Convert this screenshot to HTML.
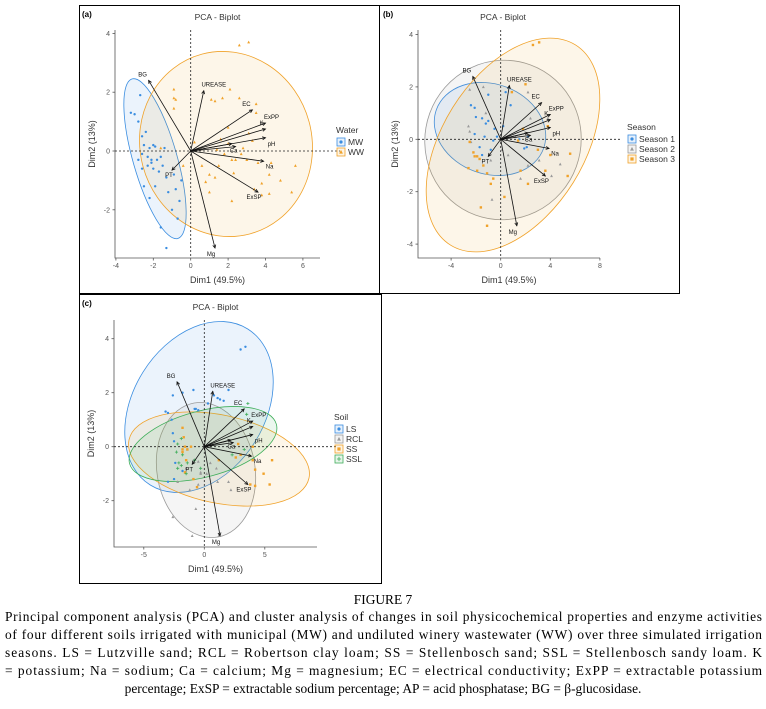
<!DOCTYPE html>
<html><head><meta charset="utf-8">
<style>
html,body{margin:0;padding:0;background:#fff;}
svg{display:block;}
text{font-family:"Liberation Sans",sans-serif;}
.cap{font-family:"Liberation Serif",serif;font-size:13.4px;fill:#000;}
</style></head>
<body>
<svg id="fig" width="766" height="709" viewBox="0 0 766 709" xmlns="http://www.w3.org/2000/svg">
<rect x="79.5" y="5.5" width="300" height="288" fill="none" stroke="#000"/>
<rect x="379.5" y="5.5" width="300" height="288" fill="none" stroke="#000"/>
<rect x="79.5" y="294.5" width="302" height="289" fill="none" stroke="#000"/>
<g id="panels"></g>
<text class="cap" x="383" y="604" text-anchor="middle">FIGURE 7</text>
<text class="cap" x="5" y="621" textLength="757" lengthAdjust="spacing">Principal component analysis (PCA) and cluster analysis of changes in soil physicochemical properties and enzyme activities</text>
<text class="cap" x="5" y="639" textLength="757" lengthAdjust="spacing">of four different soils irrigated with municipal (MW) and undiluted winery wastewater (WW) over three simulated irrigation</text>
<text class="cap" x="5" y="657" textLength="757" lengthAdjust="spacing">seasons. LS = Lutzville sand; RCL = Robertson clay loam; SS = Stellenbosch sand; SSL = Stellenbosch sandy loam. K</text>
<text class="cap" x="5" y="675" textLength="757" lengthAdjust="spacing">= potassium; Na = sodium; Ca = calcium; Mg = magnesium; EC = electrical conductivity; ExPP = extractable potassium</text>
<text class="cap" x="383" y="693" text-anchor="middle">percentage; ExSP = extractable sodium percentage; AP = acid phosphatase; BG = β-glucosidase.</text>
</svg>
<script>
const varNames=["BG","UREASE","EC","ExPP","K","pH","AP","Ca","Na","ExSP","Mg","PT"];
const varX=[-2.25,0.7,3.3,4.0,4.0,4.0,2.2,2.4,3.9,3.6,1.3,-1.0];
const varY=[2.4,2.05,1.4,0.95,0.75,0.45,0.25,0.15,-0.35,-1.4,-3.3,-0.65];
const labDx=[-6,10,-6,6,-4,6,0,-2,6,-4,-4,-3];
const labDy=[-4,-4,-4,-4,-4,8,0,6,7,7,8,7];

const aMW=[[-3.2,1.3],[-3.0,1.25],[-2.8,1.0],[-2.7,1.9],[-2.6,0.5],[-2.4,0.65],[-2.5,0.2],[-2.6,-0.1],[-2.3,-0.2],[-2.2,0.1],[-2.0,0.2],[-1.9,0.15],[-2.1,-0.4],[-1.8,-0.3],[-2.0,-0.6],[-1.7,-0.7],[-1.5,-0.5],[-1.3,-0.9],[-2.6,-0.6],[-2.5,-1.2],[-1.9,-1.2],[-1.2,-1.4],[-0.8,-1.3],[-0.6,-1.7],[-1.0,-2.0],[-0.7,-2.3],[-1.6,-2.6],[-1.3,-3.3],[-2.1,-0.3],[-2.3,-0.5],[-1.6,-0.2],[-0.9,-0.8],[-0.5,-1.0],[-2.8,-0.3],[-1.4,0.1],[-2.2,-1.6]];
const aWW=[[2.6,3.6],[3.1,3.7],[-0.9,2.1],[-0.9,1.8],[-0.8,1.75],[-0.9,1.45],[2.1,2.1],[1.1,1.75],[1.3,1.7],[1.7,1.8],[2.6,1.8],[3.5,1.6],[3.5,1.3],[2.0,0.8],[3.1,0.6],[3.3,0.35],[0.2,0.3],[2.0,0.25],[2.8,0.1],[1.4,0.05],[2.7,-0.1],[2.2,-0.3],[2.4,-0.3],[3.0,-0.3],[3.6,-0.4],[4.3,-0.4],[5.6,-0.5],[0.6,-0.5],[1.5,-0.5],[2.3,-0.75],[1.0,-0.8],[4.2,-0.8],[4.8,-1.0],[3.8,-1.1],[0.8,-1.05],[1.3,-0.9],[1.0,-1.4],[2.2,-1.7],[3.8,-1.5],[4.2,-1.45],[5.4,-1.4],[3.4,-1.3],[-1.6,0.1],[-0.4,-0.5],[1.6,0.4],[1.8,-0.1]];
const bS1=[[-2.4,1.3],[-2.1,1.2],[-2.0,0.85],[-1.5,0.8],[-1.2,0.6],[-1.0,0.7],[-0.5,0.4],[-0.3,0.1],[-1.3,0.1],[-2.1,0.2],[-1.7,-0.3],[-0.6,-0.05],[1.5,0],[2.2,0.1],[1.9,-0.35],[0.2,0.5],[-0.8,-0.4],[-1.5,-0.6],[0.8,1.3],[0.4,1.8],[2.1,-0.3],[-1.0,1.7]];
const bS2=[[-2.5,1.9],[-1.4,2.0],[-2.6,0.5],[-2.5,0.3],[-2.4,-0.1],[2.2,1.8],[0.1,-0.4],[-0.8,-0.8],[2.4,0.8],[3.1,-0.8],[1.6,-1.5],[-0.7,-2.3],[4.1,-1.4],[4.8,-0.95],[0.6,-0.6],[2.2,-1.0],[3.8,0.8],[-1.2,1.0],[1.2,0.1]];
const bS3=[[2.6,3.6],[3.1,3.7],[2.0,2.1],[0.9,1.8],[-2.5,-0.1],[-2.2,-0.5],[-2.1,-0.65],[-1.7,-0.75],[-1.9,-0.65],[-1.4,-1.0],[-2.6,-1.1],[-1.9,-1.2],[-1.1,-1.3],[-0.6,-1.5],[-0.8,-1.7],[1.8,0.4],[1.4,-0.05],[3.8,0.5],[3.0,-0.4],[5.6,-0.55],[5.4,-1.4],[3.6,-1.2],[2.2,-1.7],[0.3,-2.2],[-1.6,-2.6],[-1.1,-3.3],[1.6,-1.2],[4.0,-0.6]];
const cLS=[[3.0,3.6],[3.4,3.7],[2.0,2.1],[1.1,1.8],[1.3,1.75],[1.6,1.7],[-1.8,2.0],[-2.6,1.9],[-0.9,2.1],[-0.8,1.4],[-0.5,1.35],[-0.7,1.4],[-3.2,1.3],[-3.0,1.25],[-2.7,1.0],[-2.6,0.5],[-2.5,0.2],[-2.4,-0.6],[-1.8,-0.9],[-2.5,-1.2],[-3.0,-1.3],[0.3,1.6],[0.8,1.9]];
const cRCL=[[-1.5,-0.8],[-0.3,-1.0],[0.2,-1.0],[-0.5,-0.55],[-0.9,-0.5],[1.0,-0.8],[2.0,-1.3],[2.2,-1.6],[1.1,-1.3],[-0.5,-1.4],[-2.2,-1.3],[-1.2,-1.6],[-2.6,-2.6],[-0.7,-2.3],[-1.0,-3.3],[1.2,-3.3],[-0.3,-0.95],[0.5,-0.6],[-1.4,-0.1]];
const cSS=[[-1.8,0.7],[-1.7,0.35],[-1.6,0],[-1.8,-0.2],[-1.4,-0.1],[-1.1,0],[-1.5,-0.5],[-1.6,-0.95],[-0.9,-1.2],[-0.6,-1.5],[1.2,-0.5],[2.6,-0.4],[3.0,-0.3],[4.0,-0.5],[5.6,-0.5],[4.9,-1.0],[4.2,-0.85],[3.8,-1.4],[4.2,-1.45],[5.4,-1.4],[4.0,0.0],[2.8,0.1],[-1.8,-0.1]];
const cSSL=[[3.6,1.6],[3.5,1.2],[-2.3,-0.2],[-2.1,-0.6],[-1.9,-0.7],[-1.4,-0.6],[-1.8,-0.3],[-1.9,0.3],[-2.2,0.1],[-0.8,-0.5],[-0.3,-0.8],[-1.5,-1.0],[2.3,-0.3],[3.3,-0.1],[-2.2,-0.8]];

const ticksA_x=[-4,-2,0,2,4,6], ticksA_y=[-2,0,2,4];
const ticksB_x=[-4,0,4,8], ticksB_y=[-4,-2,0,2,4];
const ticksC_x=[-5,0,5], ticksC_y=[-2,0,2,4];

const NS="http://www.w3.org/2000/svg";
const root=document.getElementById('panels');
function mk(tag,attrs,parent){const e=document.createElementNS(NS,tag);for(const k in attrs)e.setAttribute(k,attrs[k]);(parent||root).appendChild(e);return e;}
const BLUE="#3a8de0",GRAY="#9a9a9a",ORANGE="#f0a22a",GREEN="#3fae5a";

const panels=[
 {id:"a",tag:"(a)",x0:190.7,ux:18.7,y0:151,uy:29.4,L:115,R:320,T:30,B:258,tx:ticksA_x,ty:ticksA_y,txLab:null,
  ell:[{cx:155,cy:158.7,rx:22,ry:83,rot:-16,c:BLUE},{cx:226,cy:144,rx:86,ry:93,rot:-15,c:ORANGE}],
  groups:[{pts:aMW,c:BLUE,s:"circle"},{pts:aWW,c:ORANGE,s:"tri"}],
  legTitle:"Water",legX:336,legY:133,leg:[["MW",BLUE,"circle"],["WW",ORANGE,"tri"]]},
 {id:"b",tag:"(b)",x0:500.7,ux:12.4,y0:139.3,uy:26.2,L:418,R:600,T:30,B:258,tx:ticksB_x,ty:ticksB_y,
  ell:[{cx:490,cy:129,rx:57,ry:45,rot:20,c:BLUE},{cx:503,cy:140,rx:78,ry:80,rot:20,c:GRAY},{cx:513,cy:145,rx:118,ry:71,rot:-58,c:ORANGE}],
  groups:[{pts:bS1,c:BLUE,s:"circle"},{pts:bS2,c:GRAY,s:"tri"},{pts:bS3,c:ORANGE,s:"sq"}],
  legTitle:"Season",legX:627,legY:130,leg:[["Season 1",BLUE,"circle"],["Season 2",GRAY,"tri"],["Season 3",ORANGE,"sq"]]},
 {id:"c",tag:"(c)",x0:204.3,ux:12.1,y0:446.7,uy:27,L:114,R:317,T:320,B:547,tx:ticksC_x,ty:ticksC_y,
  ell:[{cx:199,cy:407,rx:92,ry:66,rot:-58,c:BLUE},{cx:206,cy:470,rx:49,ry:68,rot:-10,c:GRAY},{cx:219,cy:459,rx:92,ry:44,rot:12,c:ORANGE},{cx:203,cy:444,rx:76,ry:33,rot:-15,c:GREEN}],
  groups:[{pts:cLS,c:BLUE,s:"circle"},{pts:cRCL,c:GRAY,s:"tri"},{pts:cSS,c:ORANGE,s:"sq"},{pts:cSSL,c:GREEN,s:"plus"}],
  legTitle:"Soil",legX:334,legY:420,leg:[["LS",BLUE,"circle"],["RCL",GRAY,"tri"],["SS",ORANGE,"sq"],["SSL",GREEN,"plus"]]}
];

function marker(g,s,x,y,c,r){
  if(s==="circle")return mk('circle',{cx:x,cy:y,r:r,fill:c},g);
  if(s==="tri")return mk('polygon',{points:`${x},${y-r*1.3} ${x-r*1.2},${y+r} ${x+r*1.2},${y+r}`,fill:c},g);
  if(s==="sq")return mk('rect',{x:x-r,y:y-r,width:2*r,height:2*r,fill:c},g);
  const p=mk('path',{d:`M${x-r*1.3},${y}H${x+r*1.3}M${x},${y-r*1.3}V${y+r*1.3}`,stroke:c,'stroke-width':0.8,fill:'none'},g);return p;
}

panels.forEach(P=>{
  const g=mk('g',{});
  
  
  const sx=v=>P.x0+v*P.ux, sy=v=>P.y0-v*P.uy;
  const pw=P.id==="b"?[380,680]:[79,380];
  const t=mk('text',{x:82+(P.id==="b"?301:0),y:(P.id==="c"?306:17),'font-size':8,'font-weight':'bold',fill:'#000'},g);t.textContent=P.tag;
  
  const ti=mk('text',{x:(P.L+P.R)/2+ (P.id==="b"?-6:0),y:P.T-10,'font-size':8.5,fill:'#333','text-anchor':'middle'},g);ti.textContent="PCA - Biplot";
  
  // ellipses
  P.ell.forEach((e,i)=>{const el=mk('ellipse',{cx:e.cx,cy:e.cy,rx:e.rx,ry:e.ry,transform:`rotate(${e.rot} ${e.cx} ${e.cy})`,fill:e.c,'fill-opacity':0.1,stroke:e.c,'stroke-width':0.8},g);
    });
  // axes
  const ax=mk('path',{d:`M${P.L},${P.T}V${P.B}H${P.R}`,stroke:'#555','stroke-width':0.8,fill:'none'},g);
  
  P.tx.forEach(v=>{const x=sx(v);mk('line',{x1:x,x2:x,y1:P.B,y2:P.B+2.5,stroke:'#555','stroke-width':0.8},g);
    const tl=mk('text',{x:x,y:P.B+10,'font-size':7,fill:'#555','text-anchor':'middle'},g);tl.textContent=v;
    });
  P.ty.forEach(v=>{const y=sy(v);mk('line',{x1:P.L-2.5,x2:P.L,y1:y,y2:y,stroke:'#555','stroke-width':0.8},g);
    const tl=mk('text',{x:P.L-5,y:y+2.5,'font-size':7,fill:'#555','text-anchor':'end'},g);tl.textContent=v;
    });
  mk('line',{x1:sx(0),x2:sx(0),y1:P.T,y2:P.B,stroke:'#222','stroke-width':0.8,'stroke-dasharray':'2,2'},g);
  mk('line',{x1:P.L,x2:P.R+20,y1:sy(0),y2:sy(0),stroke:'#222','stroke-width':0.8,'stroke-dasharray':'2,2'},g);
  const xl=mk('text',{x:(P.L+P.R)/2,y:P.B+25,'font-size':9,fill:'#333','text-anchor':'middle'},g);xl.textContent="Dim1 (49.5%)";
  
  const yx=P.L-20,yy=(P.T+P.B)/2;
  const yl=mk('text',{x:yx,y:yy,'font-size':9,fill:'#333','text-anchor':'middle',transform:`rotate(-90 ${yx} ${yy})`},g);yl.textContent="Dim2 (13%)";
  
  // points
  P.groups.forEach(G=>{G.pts.forEach(p=>{const m=marker(g,G.s,sx(p[0]),sy(p[1]),G.c,1.2);
    });});
  // arrows
  varNames.forEach((n,i)=>{
    const x2=sx(varX[i]),y2=sy(varY[i]),x1=sx(0),y1=sy(0);
    const l=mk('line',{x1,y1,x2,y2,stroke:'#111','stroke-width':0.8},g);
    
    const a=Math.atan2(y2-y1,x2-x1),h=3.5;
    mk('path',{d:`M${x2-h*Math.cos(a-0.45)},${y2-h*Math.sin(a-0.45)}L${x2},${y2}L${x2-h*Math.cos(a+0.45)},${y2-h*Math.sin(a+0.45)}`,stroke:'#111','stroke-width':0.8,fill:'none'},g);
    if(n!=="AP"){const tl=mk('text',{x:x2+labDx[i],y:y2+labDy[i],'font-size':6,fill:'#111','text-anchor':'middle'},g);tl.textContent=n;
      }
  });
  // legend
  const lt=mk('text',{x:P.legX,y:P.legY,'font-size':8.5,fill:'#333'},g);lt.textContent=P.legTitle;
  
  P.leg.forEach((L,i)=>{const y=P.legY+9+i*10;
    const lg=mk('g',{},g);
    mk('rect',{x:P.legX+1,y:y-4,width:8,height:8,fill:L[1],'fill-opacity':0.12,stroke:L[1],'stroke-width':0.8},lg);
    marker(lg,L[2],P.legX+5,y,L[1],1.6);
    const tx=mk('text',{x:P.legX+12,y:y+3,'font-size':8.5,fill:'#333'},lg);tx.textContent=L[0];});
});
</script>
</body></html>
